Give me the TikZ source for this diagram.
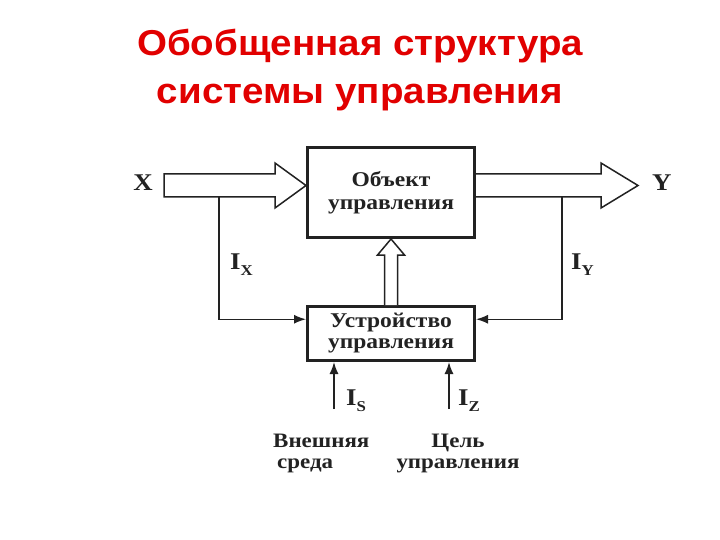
\documentclass[tikz,border=0pt]{standalone}
\usepackage{fontspec}
\setmainfont{Liberation Serif}[FakeStretch=1.12]
\newfontfamily\titlefont{Liberation Sans}[FakeStretch=1.07]
\usetikzlibrary{arrows.meta,positioning,calc}
\definecolor{ink}{HTML}{222222}
\definecolor{titlered}{HTML}{E10000}
\tikzset{
    box/.style={
        draw=ink,
        line width=3pt,
        align=center,
        minimum width=167pt,
        text=ink,
        font=\bfseries\fontsize{21}{23}\selectfont
    },
    flow/.style={-{Latex[length=12pt,width=9pt]}, line width=1.5pt, draw=ink},
    hollow/.style={draw=ink, line width=1.5pt, fill=white, line join=miter},
    sig/.style={inner sep=0pt, text=ink, font=\bfseries\fontsize{24}{26}\selectfont},
    caption/.style={inner sep=0pt, text=ink, font=\bfseries\fontsize{20.5}{21}\selectfont}
}
\newcommand{\idx}[1]{I\raisebox{-6pt}{\fontsize{15}{15}\selectfont #1}}

\begin{document}
\begin{tikzpicture}[x=1pt, y=-1pt]
        \useasboundingbox (0,0) rectangle (720,540);
        \node[inner sep=0pt, anchor=north, align=center, text=titlered,
              font=\titlefont\bfseries\fontsize{36}{48}\selectfont] (title) at (360,29)
              {Обобщенная структура\\системы управления};
        \node[box, minimum height=90pt] (obj) at (391,192.5) {Объект\\управления};
        \node[box, minimum height=54pt, below=66pt of obj, font=\bfseries\fontsize{21}{21}\selectfont] (ctrl)
              {Устройство\\управления};
        % input and output
        \draw[hollow, shift={($(obj.west)+(0,-7)$)}] (0,0) -- (-31,-22.5) -- (-31,-11.5) -- (-142,-11.5)
              -- (-142,11.5) -- (-31,11.5) -- (-31,22.5) -- cycle;
        \draw[hollow, shift={($(obj.east)+(0,-7)$)}] (0,-11.5) -- (125,-11.5) -- (125,-22.5) -- (162,0)
              -- (125,22.5) -- (125,11.5) -- (0,11.5);
        \draw[hollow, shift={(ctrl.north)}] (-6.5,0) -- (-6.5,-50) -- (-13.5,-50) -- (0,-66)
              -- (13.5,-50) -- (6.5,-50) -- (6.5,0);
        \node[sig, anchor=base east] (x) at (153,191) {X};
        \node[sig, anchor=base west] (y) at (652,191) {Y};
        % feedback
        \coordinate (xtap) at (219,197);
        \coordinate (ytap) at (562,197);
        \coordinate (cin) at ($(ctrl.north west)!.25!(ctrl.south west)$);
        \coordinate (cout) at ($(ctrl.north east)!.25!(ctrl.south east)$);
        \draw[flow] (xtap) |- (cin);
        \draw[flow] (ytap) |- (cout);
        \node[sig, anchor=base west] (ix) at (230,269) {\idx{X}};
        \node[sig, anchor=base west] (iy) at (571,269) {\idx{Y}};
        % environment and goal
        \coordinate (sfoot) at (334,409);
        \coordinate (zfoot) at (449,409);
        \draw[flow] (sfoot) -- (sfoot |- ctrl.south);
        \draw[flow] (zfoot) -- (zfoot |- ctrl.south);
        \node[sig, anchor=base west] (is) at (346,405) {\idx{S}};
        \node[sig, anchor=base west] (iz) at (458,405) {\idx{Z}};
        \node[caption, anchor=north west, align=left] (env) at (273,434) {Внешняя\\\hspace{4pt}среда};
        \node[caption, anchor=north, align=center] (goal) at (458,434) {Цель\\управления};
    \end{tikzpicture}
\end{document}
